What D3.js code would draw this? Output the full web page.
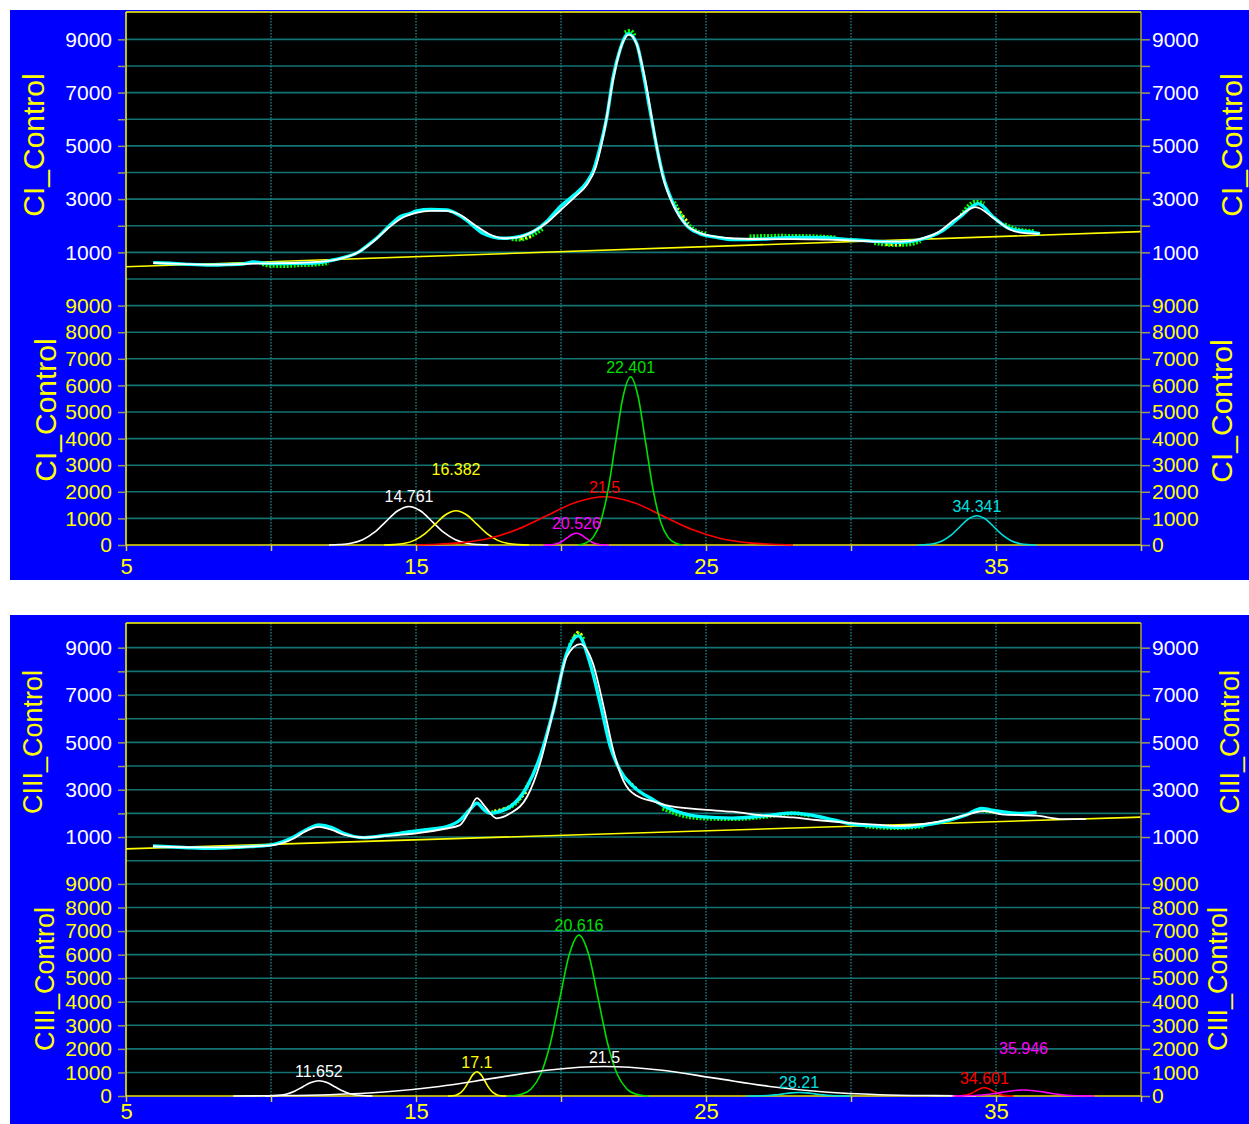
<!DOCTYPE html>
<html>
<head>
<meta charset="utf-8">
<script src="https://cdn.jsdelivr.net/npm/d3@7"></script>
<style>
  body { margin: 0; background: #fff; }
  svg { display: block; font-family: Arial, "Liberation Sans", sans-serif; }
</style>
</head>
<body>
<div id="chart"></div>
<script>
// ---- axis values ----
const xTickValues = [5, 10, 15, 20, 25, 30, 35, 40];
const xTickLabels = [5, 15, 25, 35];
const xGridValues = [10, 15, 20, 25, 30, 35];
const upperTickValues = [1000, 2000, 3000, 4000, 5000, 6000, 7000, 8000, 9000];
const upperTickLabels = [1000, 3000, 5000, 7000, 9000];
const lowerTickValues = [0, 1000, 2000, 3000, 4000, 5000, 6000, 7000, 8000, 9000];

// ---- CI_Control: measured scans, fit and baseline ----
const ciScan = [[5.94,615],[6.5,590],[7,560],[7.9,520],[8.5,540],[9,560],[9.39,640],[9.7,600],[9.97,580],[10.5,580],[11,590],[11.5,600],[12,680],[12.49,800],[13,1000],[13.41,1330],[13.64,1530],[14.22,2140],[14.45,2340],[14.79,2455],[15.02,2560],[15.5,2610],[16.06,2590],[16.4,2450],[16.75,2200],[17.32,1710],[18.01,1530],[18.5,1580],[19.05,1780],[19.5,2150],[19.97,2715],[20.45,3150],[20.89,3640],[21.12,4080],[21.35,4960],[21.58,6080],[21.8,7590],[22.03,8590],[22.32,9215],[22.61,8840],[22.84,7710],[23.07,6335],[23.3,4960],[23.53,3830],[23.87,2830],[24.33,2015],[24.79,1705],[25.4,1560],[25.94,1480],[27,1500],[28,1560],[29,1550],[29.97,1480],[30.66,1430],[31.69,1380],[32.26,1450],[33.18,1830],[33.76,2330],[34.39,2830],[34.9,2330],[35.48,1890],[36.17,1765],[36.52,1700]];
const ciScanGreen = [
  [[9.7,560],[9.97,500],[10.5,490],[11,520],[11.5,540],[12,600]],
  [[18.3,1500],[18.6,1480],[19,1640],[19.4,1900]],
  [[22.2,9250],[22.4,9320],[22.55,9100]],
  [[23.9,2900],[24.2,2300],[24.6,1850],[25,1700]],
  [[26.5,1600],[27.5,1620],[28.5,1610],[29.5,1560]],
  [[30.8,1350],[31.5,1280],[32,1300],[32.4,1420]],
  [[33.8,2400],[34.3,2900],[34.6,2850]],
  [[35.3,2050],[35.8,1850],[36.3,1800]]
];
const ciScanYellow = [
  [[18.6,1500],[19,1600]],
  [[24,2650],[24.4,2100]],
  [[31.2,1300],[31.8,1280]]
];
const ciFit = [[5.94,600],[7,560],[8,540],[9,560],[10,590],[11,610],[12,680],[12.5,790],[13,1000],[13.5,1380],[14,1870],[14.5,2280],[15,2480],[15.5,2560],[16,2560],[16.5,2420],[17,2050],[17.5,1700],[18,1530],[18.5,1560],[19,1760],[19.5,2100],[20,2600],[20.5,3100],[20.9,3550],[21.2,4200],[21.5,5600],[21.8,7500],[22.1,8800],[22.35,9180],[22.6,8850],[22.9,7500],[23.2,5600],[23.5,3900],[23.9,2700],[24.3,2050],[24.8,1720],[25.4,1580],[26,1520],[27,1500],[28,1500],[29,1480],[30,1450],[31,1400],[31.7,1400],[32.3,1480],[33,1750],[33.6,2250],[34.3,2700],[34.9,2300],[35.5,1850],[36,1720],[36.5,1700]];
const ciBase = [[5,460],[40,1780]];

// ---- CI_Control: fitted peaks ----
const ciPeakLabels = ["14.761", "16.382", "20.526", "21.5", "22.401", "34.341"];
const ciPeakColors = ["#ffffff", "#ffff00", "#ff00ff", "#ff0000", "#00e000", "#00e0e0"];
const ciPeaks = [
  [[12,0],[12.36,16],[12.76,64],[13.16,196],[13.56,471],[13.96,880],[14.36,1279],[14.76,1450],[15.16,1279],[15.56,880],[15.96,471],[16.36,196],[16.76,64],[17.16,16],[17.5,0]],
  [[13.9,0],[14.22,14],[14.58,57],[14.94,174],[15.3,419],[15.66,783],[16.02,1138],[16.38,1290],[16.74,1138],[17.1,783],[17.46,419],[17.82,174],[18.18,57],[18.54,14],[18.9,0]],
  [[19.4,0],[19.57,5],[19.73,19],[19.89,59],[20.05,143],[20.21,267],[20.37,388],[20.53,440],[20.69,388],[20.85,267],[21.01,143],[21.17,59],[21.33,19],[21.49,5],[21.65,0]],
  [[15,0],[15.5,20],[16.5,80],[17.5,245],[18.5,590],[19.5,1102],[20.5,1601],[21.5,1815],[22.5,1601],[23.5,1102],[24.5,590],[25.5,245],[26.5,80],[27.5,20],[28,0]],
  [[20.6,0],[20.84,70],[21.1,278],[21.36,853],[21.62,2054],[21.88,3836],[22.14,5574],[22.4,6320],[22.66,5574],[22.92,3836],[23.18,2054],[23.44,853],[23.7,278],[23.96,70],[24.2,0]],
  [[32.3,0],[32.54,12],[32.84,48],[33.14,149],[33.44,358],[33.74,668],[34.04,970],[34.34,1100],[34.64,970],[34.94,668],[35.24,358],[35.54,149],[35.84,48],[36.14,12],[36.4,0]]
];

// ---- CIII_Control: measured scans, fit and baseline ----
const ciiiScan = [[5.93,620],[7,560],[7.9,520],[9,580],[9.97,660],[10.4,800],[10.8,1015],[11.2,1300],[11.66,1510],[12.1,1400],[12.5,1160],[13.2,975],[14,1080],[14.8,1225],[15.5,1330],[16,1420],[16.52,1720],[16.85,2150],[17.1,2425],[17.35,2150],[17.56,2000],[17.9,2080],[18.25,2280],[18.83,3130],[19.28,4400],[19.74,6370],[20.2,8770],[20.6,9500],[21,8350],[21.35,6660],[21.7,4820],[22.03,3830],[22.5,3130],[23.2,2560],[23.6,2280],[24.2,2000],[24.8,1860],[25.9,1800],[27.05,1900],[27.97,2010],[28.5,1950],[29.4,1720],[29.97,1560],[30.8,1470],[31.7,1410],[32.5,1500],[33.4,1720],[34,1950],[34.5,2210],[34.8,2150],[35.2,2070],[35.8,2000],[36.4,2040]];
const ciiiScanGreen = [
  [[17.6,2050],[18,2150],[18.5,2500],[18.9,3300]],
  [[20.3,9100],[20.6,9600],[20.8,9300]],
  [[23.5,2200],[24.2,1900],[25,1780],[26,1760],[27,1850],[28,2000],[28.6,1900]],
  [[30.5,1450],[31.5,1380],[32.5,1450]],
  [[34.4,2150],[35,2050]]
];
const ciiiScanYellow = [
  [[17.7,2100],[18.3,2350],[18.8,2900]],
  [[20.45,9450],[20.6,9650],[20.75,9450]],
  [[22.2,3500],[22.6,3050]],
  [[23.8,2150],[24.5,1900]]
];
const ciiiFit = [[5.93,600],[8,560],[10,650],[10.8,950],[11.2,1250],[11.65,1430],[12.1,1300],[12.5,1100],[13.2,980],[14,1050],[15,1150],[16,1350],[16.5,1490],[16.8,2000],[17.1,2640],[17.4,2250],[17.78,1790],[18.25,2000],[18.83,2700],[19.28,4120],[19.74,6370],[20.2,8620],[20.66,9150],[21.1,8340],[21.47,6510],[21.8,4680],[22.15,3380],[22.6,2750],[23.2,2500],[23.6,2350],[24.8,2170],[25.9,2070],[27.05,1900],[28,1830],[28.8,1720],[30,1590],[31,1510],[31.7,1470],[32.5,1550],[33.4,1750],[34,1950],[34.6,2100],[35.2,1960],[36.4,1900],[37.3,1760],[38.1,1760]];
const ciiiBase = [[5,500],[40,1840]];

// ---- CIII_Control: fitted peaks ----
const ciiiPeakLabels = ["11.652", "17.1", "20.616", "21.5", "28.21", "34.601", "35.946"];
const ciiiPeakColors = ["#ffffff", "#ffff00", "#00e000", "#ffffff", "#00e0e0", "#ff0000", "#ff00ff"];
const ciiiPeaks = [
  [[9.8,0],[10,7],[10.28,29],[10.55,88],[10.83,211],[11.1,395],[11.38,573],[11.65,650],[11.93,573],[12.2,395],[12.48,211],[12.75,88],[13.03,29],[13.3,7],[13.5,0]],
  [[16.1,0],[16.26,11],[16.4,45],[16.54,139],[16.68,335],[16.82,625],[16.96,908],[17.1,1030],[17.24,908],[17.38,625],[17.52,335],[17.66,139],[17.8,45],[17.94,11],[18.1,0]],
  [[18.2,0],[18.64,75],[18.97,300],[19.3,922],[19.63,2220],[19.96,4146],[20.29,6024],[20.62,6830],[20.95,6024],[21.28,4146],[21.61,2220],[21.94,922],[22.27,300],[22.6,75],[23,0]],
  [[8.7,0],[10.1,14],[12,55],[13.9,169],[15.8,406],[17.7,759],[19.6,1103],[21.5,1250],[23.4,1103],[25.3,759],[27.2,406],[29.1,169],[31,55],[32.9,14],[34.3,0]],
  [[26.4,0],[26.56,2],[26.83,7],[27.11,20],[27.38,49],[27.66,91],[27.93,132],[28.21,150],[28.49,132],[28.76,91],[29.04,49],[29.31,20],[29.59,7],[29.86,2],[30,0]],
  [[33.6,0],[33.7,4],[33.85,15],[34,47],[34.15,114],[34.3,212],[34.45,309],[34.6,350],[34.75,309],[34.9,212],[35.05,114],[35.2,47],[35.35,15],[35.5,4],[35.6,0]],
  [[33.5,0],[33.7,3],[34.07,11],[34.45,34],[34.82,83],[35.2,155],[35.57,225],[35.95,255],[36.32,225],[36.7,155],[37.07,83],[37.45,34],[37.82,11],[38.2,3],[38.4,0]]
];

// ---- layout ----
const W = 1249, H = 1124;
const plotLeft = 126, plotRight = 1141;
const gridColor = "#137272";

const panels = [
  { name: "CI_Control", bgTop: 10, bgBottom: 580, top: 12, up: [279, 12.7], low: [545, 279],
    scan: ciScan, green: ciScanGreen, yellow: ciScanYellow, fit: ciFit, base: ciBase,
    peaks: ciPeaks, labels: ciPeakLabels, colors: ciPeakColors,
    titleSize: 30, titles: [[33, 145], [45, 410], [1231, 145], [1221, 411]], xPad: 7 },
  { name: "CIII_Control", bgTop: 615, bgBottom: 1124, top: 623, up: [860.7, 624], low: [1096, 860.4],
    scan: ciiiScan, green: ciiiScanGreen, yellow: ciiiScanYellow, fit: ciiiFit, base: ciiiBase,
    peaks: ciiiPeaks, labels: ciiiPeakLabels, colors: ciiiPeakColors,
    titleSize: 27, titles: [[33, 742], [45, 979], [1230, 742], [1218, 979]], xPad: 1 }
];

const svg = d3.select("#chart").append("svg")
  .attr("width", W)
  .attr("height", H);

svg.append("rect").attr("width", W).attr("height", H).attr("fill", "#ffffff");

const x = d3.scaleLinear().domain([5, 40]).range([plotLeft, plotRight]);
const intFmt = d3.format("d");

panels.forEach(p => {
  const yUp = d3.scaleLinear().domain([0, 10000]).range(p.up);
  const yLo = d3.scaleLinear().domain([0, 10000]).range(p.low);
  const g = svg.append("g");

  g.append("rect")
    .attr("x", 10).attr("y", p.bgTop)
    .attr("width", W - 10).attr("height", p.bgBottom - p.bgTop)
    .attr("fill", "#0000ff");

  g.append("rect")
    .attr("x", plotLeft).attr("y", p.top)
    .attr("width", plotRight - plotLeft).attr("height", p.low[0] - p.top)
    .attr("fill", "#000000");

  // horizontal grid
  const hLines = [0].concat(upperTickValues).map(v => yUp(v))
    .concat(upperTickValues.map(v => yLo(v)));
  g.selectAll(".hgrid").data(hLines).enter().append("line")
    .attr("x1", plotLeft).attr("x2", plotRight)
    .attr("y1", d => d).attr("y2", d => d)
    .attr("stroke", gridColor).attr("stroke-width", 1.6);

  // vertical dotted grid
  g.selectAll(".vgrid").data(xGridValues).enter().append("line")
    .attr("x1", d => x(d)).attr("x2", d => x(d))
    .attr("y1", p.top).attr("y2", p.low[0])
    .attr("stroke", "#1f8080").attr("stroke-width", 1.4)
    .attr("stroke-dasharray", "1.5,1.5");

  const line = (ys) => d3.line().x(d => x(d[0])).y(d => ys(d[1])).curve(d3.curveMonotoneX);

  // baseline
  g.append("path").datum(p.base)
    .attr("d", line(yUp))
    .attr("fill", "none").attr("stroke", "#ffff00").attr("stroke-width", 1.6);

  // measured scans
  p.green.forEach(seg => {
    g.append("path").datum(seg).attr("d", line(yUp))
      .attr("fill", "none").attr("stroke", "#00ff00").attr("stroke-width", 4)
      .attr("stroke-dasharray", "2,1.5");
  });
  p.yellow.forEach(seg => {
    g.append("path").datum(seg).attr("d", line(yUp))
      .attr("fill", "none").attr("stroke", "#ffff00").attr("stroke-width", 3)
      .attr("stroke-dasharray", "2,2.5");
  });
  g.append("path").datum(p.scan)
    .attr("d", line(yUp))
    .attr("fill", "none").attr("stroke", "#00ffff").attr("stroke-width", 3.4);

  // fit
  g.append("path").datum(p.fit)
    .attr("d", line(yUp))
    .attr("fill", "none").attr("stroke", "#ffffff").attr("stroke-width", 1.8);

  // zero line of lower plot
  g.append("line")
    .attr("x1", plotLeft).attr("x2", plotRight)
    .attr("y1", p.low[0]).attr("y2", p.low[0])
    .attr("stroke", "#e8e000").attr("stroke-width", 1.6);

  // peak components
  p.peaks.forEach((pk, i) => {
    g.append("path").datum(pk)
      .attr("d", line(yLo))
      .attr("fill", "none").attr("stroke", p.colors[i]).attr("stroke-width", 1.6);
  });

  // peak labels with simple collision avoidance
  const placed = [];
  const order = p.peaks.map((pk, i) => i)
    .sort((a, b) => d3.greatest(p.peaks[a], d => d[1])[0] - d3.greatest(p.peaks[b], d => d[1])[0]);
  order.forEach(i => {
    const top = d3.greatest(p.peaks[i], d => d[1]);
    const t = g.append("text")
      .attr("x", x(top[0]))
      .attr("text-anchor", "middle")
      .attr("font-size", 16)
      .attr("fill", p.colors[i])
      .text(p.labels[i]);
    const w = t.node().getComputedTextLength();
    let yb = yLo(top[1]) - 4;
    const x0 = x(top[0]) - w / 2, x1 = x(top[0]) + w / 2;
    let hit = true;
    while (hit) {
      hit = placed.some(b => x0 < b.x1 && x1 > b.x0 && Math.abs(b.y - yb) < 18);
      if (hit) yb -= 32;
    }
    t.attr("y", yb);
    placed.push({ x0, x1, y: yb });
  });

  // frame lines
  g.append("line")
    .attr("x1", plotLeft).attr("x2", plotRight)
    .attr("y1", p.top).attr("y2", p.top)
    .attr("stroke", "#ffff00").attr("stroke-width", 1.5);
  g.append("line")
    .attr("x1", plotLeft).attr("x2", plotLeft)
    .attr("y1", p.top).attr("y2", p.low[0])
    .attr("stroke", "#ffff00").attr("stroke-width", 1.5);
  g.append("line")
    .attr("x1", plotRight).attr("x2", plotRight)
    .attr("y1", p.top).attr("y2", p.low[0])
    .attr("stroke", "#a8a040").attr("stroke-width", 1.5);

  // y axes
  const styleAxis = (sel, color) => {
    sel.select(".domain").remove();
    sel.selectAll(".tick line").attr("stroke", "#a09c58").attr("stroke-width", 1.5);
    sel.selectAll(".tick text").attr("fill", color).attr("font-size", 21)
      .attr("font-family", "Arial, 'Liberation Sans', sans-serif");
  };
  const upFmt = d => upperTickLabels.includes(d) ? intFmt(d) : "";

  g.append("g").attr("transform", `translate(${plotLeft},0)`)
    .call(d3.axisLeft(yUp).tickValues(upperTickValues).tickSize(8).tickPadding(6).tickFormat(upFmt))
    .call(s => styleAxis(s, "#ffffff"));
  g.append("g").attr("transform", `translate(${plotRight},0)`)
    .call(d3.axisRight(yUp).tickValues(upperTickValues).tickSize(9).tickPadding(2).tickFormat(upFmt))
    .call(s => styleAxis(s, "#ffffff"));
  g.append("g").attr("transform", `translate(${plotLeft},0)`)
    .call(d3.axisLeft(yLo).tickValues(lowerTickValues).tickSize(8).tickPadding(6).tickFormat(intFmt))
    .call(s => styleAxis(s, "#ffff00"));
  g.append("g").attr("transform", `translate(${plotRight},0)`)
    .call(d3.axisRight(yLo).tickValues(lowerTickValues).tickSize(9).tickPadding(2).tickFormat(intFmt))
    .call(s => styleAxis(s, "#ffff00"));

  // x axis
  g.append("g").attr("transform", `translate(0,${p.low[0]})`)
    .call(d3.axisBottom(x).tickValues(xTickValues).tickSize(6).tickPadding(p.xPad)
      .tickFormat(d => xTickLabels.includes(d) ? intFmt(d) : ""))
    .call(s => {
      s.select(".domain").remove();
      s.selectAll(".tick line").attr("stroke", "#d8d040").attr("stroke-width", 1.5);
      s.selectAll(".tick text").attr("fill", "#ffff00").attr("font-size", 22)
        .attr("font-family", "Arial, 'Liberation Sans', sans-serif");
    });

  // axis titles
  p.titles.forEach(([tx, ty]) => {
    g.append("text")
      .attr("transform", `translate(${tx},${ty}) rotate(-90)`)
      .attr("text-anchor", "middle")
      .attr("dominant-baseline", "central")
      .attr("font-size", p.titleSize)
      .attr("fill", "#ffff00")
      .text(p.name);
  });
});
</script>
</body>
</html>
